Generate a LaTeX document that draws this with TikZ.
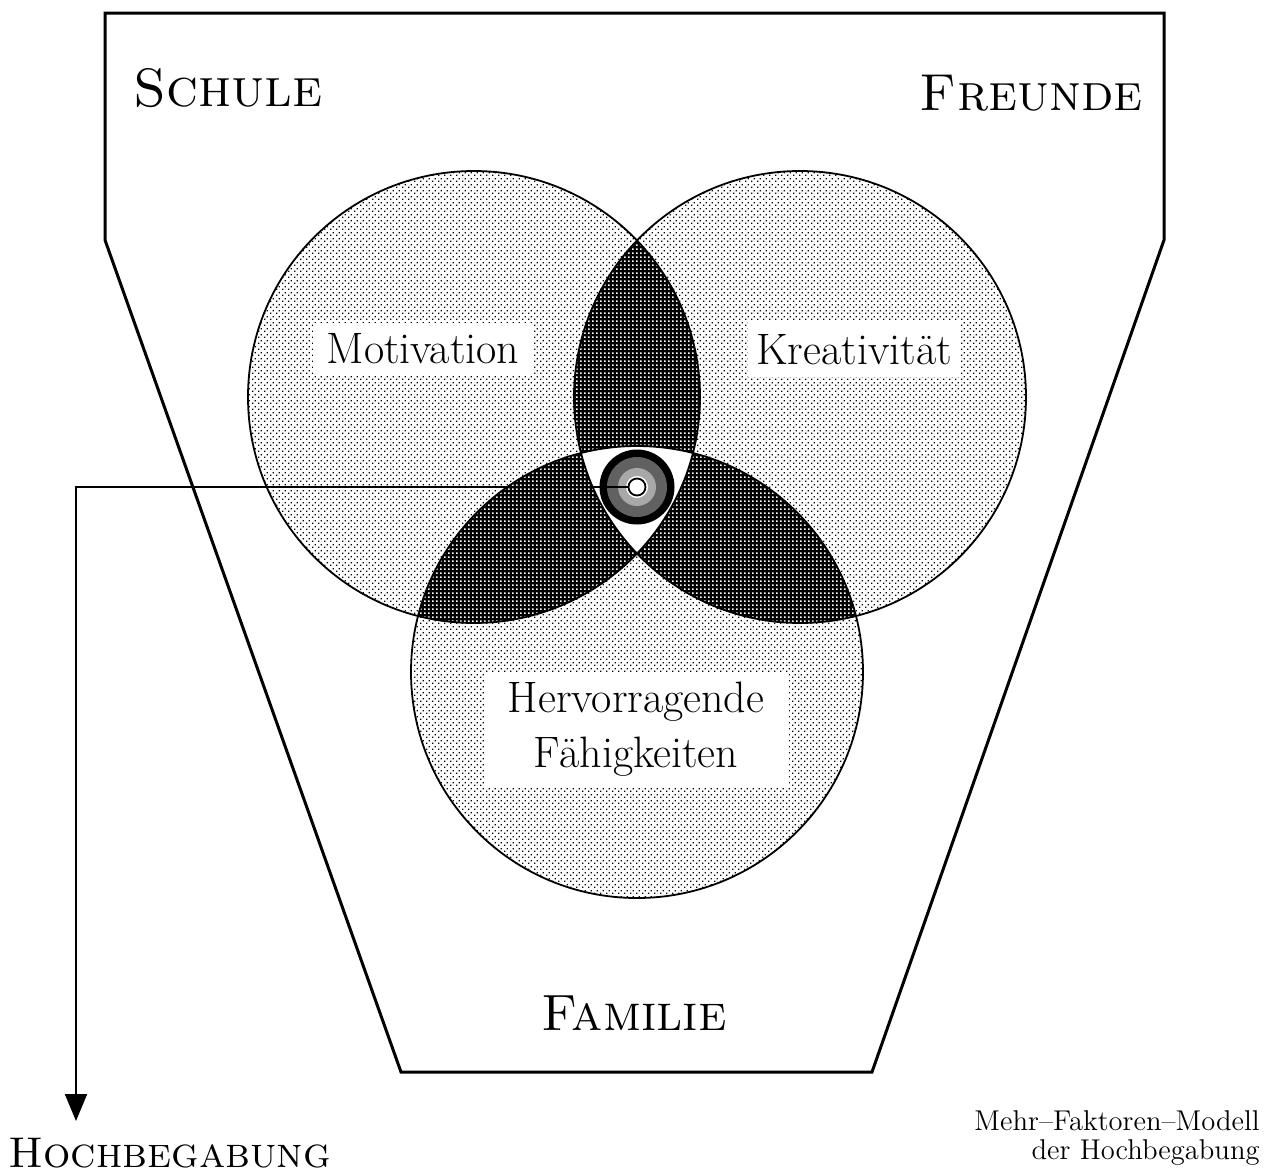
\documentclass[tikz,border=0pt]{standalone}
\usepackage{fontspec}
\usetikzlibrary{patterns,arrows.meta}

\pgfdeclarepatternformonly{lightdots}{\pgfpointorigin}{\pgfqpoint{2.8pt}{2.8pt}}{\pgfqpoint{2.8pt}{2.8pt}}{%
  \pgfpathrectangle{\pgfqpoint{0pt}{0pt}}{\pgfqpoint{0.7pt}{0.7pt}}%
  \pgfpathrectangle{\pgfqpoint{1.4pt}{1.4pt}}{\pgfqpoint{0.7pt}{0.7pt}}%
  \pgfusepath{fill}}
\pgfdeclarepatternformonly{darkdots}{\pgfpointorigin}{\pgfqpoint{2pt}{2pt}}{\pgfqpoint{2pt}{2pt}}{%
  \pgfpathrectangle{\pgfqpoint{0pt}{0pt}}{\pgfqpoint{1pt}{1pt}}%
  \pgfusepath{fill}}

\definecolor{tdark}{gray}{0.38}
\definecolor{tlight}{gray}{0.66}

\tikzset{
  border/.style={line width=1.5pt, line join=miter},
  ringline/.style={line width=0.9pt},
  labelbox/.style={fill=white, inner sep=0pt, font=\fontsize{22pt}{27.5pt}\selectfont, align=center},
  regionlabel/.style={font=\fontsize{27pt}{32pt}\selectfont\scshape, inner sep=0pt},
  disc/.style={circle, inner sep=0pt, draw=none},
  lightfill/.style={pattern=lightdots, pattern color=black},
  darkfill/.style={pattern=darkdots, pattern color=white},
}

\begin{document}
\begin{tikzpicture}[x=0.5pt,y=-0.5pt]
\useasboundingbox (0,0) rectangle (1269,1174);
\fill[white] (0,0) rectangle (1269,1174);

% outer frame
\draw[border] (105,13) -- (1164,13) -- (1164,240) -- (872,1072) -- (401,1072) -- (105,240) -- cycle;

% circles: light pattern
\fill[lightfill] (474,397) circle (226);
\fill[lightfill] (800,397) circle (226);
\fill[lightfill] (637,672) circle (226);

% pairwise lenses
\begin{scope}
  \clip (474,397) circle (226);
  \fill[black] (800,397) circle (226);
  \fill[darkfill] (800,397) circle (226);
\end{scope}
\begin{scope}
  \clip (474,397) circle (226);
  \fill[black] (637,672) circle (226);
  \fill[darkfill] (637,672) circle (226);
\end{scope}
\begin{scope}
  \clip (800,397) circle (226);
  \fill[black] (637,672) circle (226);
  \fill[darkfill] (637,672) circle (226);
\end{scope}
% triple intersection
\begin{scope}
  \clip (474,397) circle (226);
  \clip (800,397) circle (226);
  \fill[white] (637,672) circle (226);
\end{scope}

% outlines
\draw[ringline] (474,397) circle (226);
\draw[ringline] (800,397) circle (226);
\draw[ringline] (637,672) circle (226);

% labels in circles
\node[labelbox, minimum width=110pt, minimum height=26pt] (mot) at (423,349) {Motivation};
\node[labelbox, minimum width=106pt, minimum height=27.5pt] (kre) at (854,349.5) {Kreativität};
\node[labelbox, minimum width=152.5pt, minimum height=56.5pt] (fae) at (636,729.5) {Hervorragende\\Fähigkeiten};

% region labels
\node[regionlabel, anchor=base west] (schule) at (133,106) {Schule};
\node[regionlabel, font=\fontsize{26pt}{32pt}\selectfont\scshape, anchor=base east] (freunde) at (1143,110) {Freunde};
\node[regionlabel, font=\fontsize{25.5pt}{32pt}\selectfont\scshape, anchor=base] (familie) at (634,1030) {Familie};
\node[font=\fontsize{21.5pt}{26pt}\selectfont\scshape, anchor=base west, inner sep=0pt] (hoch) at (8,1167) {Hochbegabung};
\node[font=\fontsize{14.3pt}{14.5pt}\selectfont, anchor=base east, inner sep=0pt] (cap1) at (1260,1130) {Mehr--Faktoren--Modell};
\node[font=\fontsize{14.3pt}{14.5pt}\selectfont, anchor=base east, inner sep=0pt] (cap2) at (1260,1159) {der Hochbegabung};

% target
\node[disc, fill=black, minimum size=37.5pt] (t1) at (637,487) {};
\node[disc, fill=tdark, minimum size=30pt] (t2) at (t1) {};
\node[disc, fill=tlight, minimum size=19pt] (t3) at (t1) {};
\node[disc, fill=white, minimum size=11pt] (t4) at (t1) {};
\node[disc, draw=black, line width=0.9pt, fill=white, minimum size=8.5pt] (inner) at (t1) {};

% arrow to Hochbegabung
\coordinate (bend) at (76,487);
\coordinate (tip) at (76,1121);
\draw[line width=1pt, -{Triangle[length=13.5pt,width=11pt]}] (inner.west) -- (bend) -- (tip);
\end{tikzpicture}
\end{document}
